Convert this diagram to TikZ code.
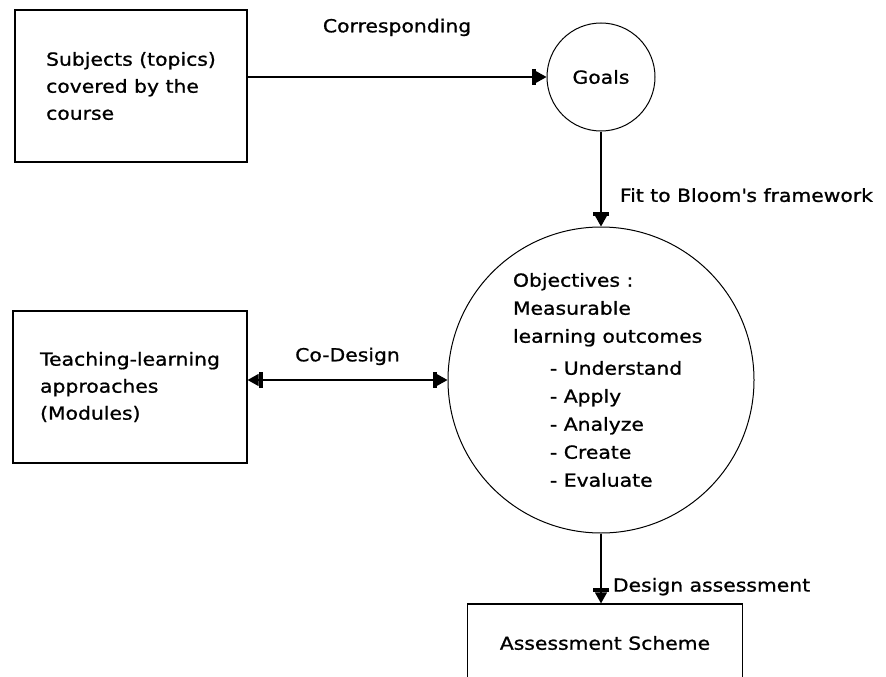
\documentclass[tikz,border=0pt]{standalone}
\usepackage{fontspec}
\setmainfont[FakeStretch=1.13, FakeBold=1]{DejaVu Sans}
\usetikzlibrary{arrows.meta,positioning}

\newcommand{\outcome}[1]{\hspace*{37pt}\mbox{- #1}}

\tikzset{
    box/.style={draw, line width=1.2pt, minimum width=232pt, minimum height=152pt, align=left},
    bubble/.style={draw, circle, line width=1pt, inner sep=0pt},
    bartip/.tip={Bar[width=16pt, line width=4pt] Triangle[length=11pt, width=12pt]},
    flow/.style={line width=1.2pt, -bartip},
    twoway/.style={line width=1.2pt, bartip-bartip},
}

\begin{document}
\begin{tikzpicture}[x=1pt, y=-1pt, font=\fontsize{18}{27}\selectfont]

    \useasboundingbox (0, 0) rectangle (886, 677);
    \clip (0, 0) rectangle (886, 677);

    \coordinate (S) at (131,  86);
    \coordinate (T) at (130, 387);
    \coordinate (G) at (601,  77);
    \coordinate (O) at (601, 380);
    \coordinate (A) at (605, 643);

    \node [box] (subjects) at (S) {Subjects (topics)\\covered by the\\course};
    \node [box, minimum width=234pt] (teaching) at (T) {Teaching-learning\\approaches\\(Modules)};
    \node [bubble, minimum size=108pt] (goals) at (G) {Goals};
    \node [bubble, minimum size=306pt, text width=176pt, align=flush left,
           font=\fontsize{18}{28}\selectfont] (objectives) at (O)
        {Objectives :\\Measurable\\\mbox{learning outcomes}\\[4pt]
         \outcome{Understand}\\\outcome{Apply}\\\outcome{Analyze}\\
         \outcome{Create}\\\outcome{Evaluate}};
    \node [draw, line width=1.2pt, minimum width=275pt, minimum height=78pt] (assessment) at (A) {Assessment Scheme};

    \draw [flow] (subjects.east |- goals.west) -- node [above=37pt] {Corresponding} (goals.west);
    \draw [flow] (goals.south) -- node [pos=0.67, right=15pt] {Fit to Bloom\textquotesingle s framework} (objectives.north);
    \draw [twoway] (teaching.east |- objectives.west) -- node [above=11pt] {Co-Design} (objectives.west);
    \draw [flow] (objectives.south) -- node [pos=0.76, right=8pt] {Design assessment} (objectives.south |- assessment.north);

\end{tikzpicture}
\end{document}
